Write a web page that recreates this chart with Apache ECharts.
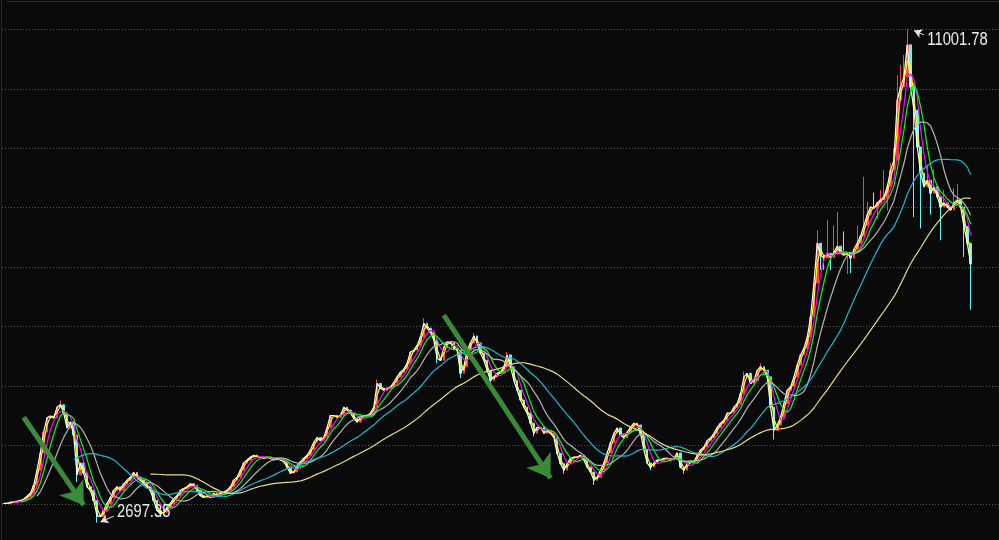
<!DOCTYPE html>
<html>
<head>
<meta charset="utf-8">
<script src="https://cdn.jsdelivr.net/npm/echarts@6/dist/echarts.min.js"></script>
<style>
html,body{margin:0;padding:0;background:#0a0a0a;width:999px;height:540px;overflow:hidden;position:relative;}
#c{position:absolute;left:0;top:-30px;width:999px;height:594px;}
</style>
</head>
<body>
<div id="c"></div>
<script>
// Close of every candle (left to right)
const closes = [
3020,3020,3040,3040,3055,3070,3090,3140,3190,3320,
3580,3870,4220,4460,4490,4460,4640,4680,4540,4290,
4390,4170,3500,3700,3530,3300,3240,3070,2810,2800,
2900,3020,3120,3240,3300,3240,3350,3410,3460,3540,
3460,3410,3350,3300,3240,3070,2900,2850,2870,2950,
3020,3100,3150,3240,3270,3300,3350,3320,3240,3150,
3120,3150,3120,3190,3150,3190,3210,3240,3300,3410,
3460,3580,3700,3750,3800,3830,3800,3800,3780,3800,
3780,3750,3780,3750,3720,3630,3530,3550,3660,3720,
3780,3830,3920,4050,4130,4080,4130,4300,4500,4500,
4470,4500,4640,4590,4540,4450,4390,4470,4500,4500,
4540,4640,5040,4960,4925,4960,4980,5060,5150,5230,
5280,5380,5570,5600,5680,5820,6050,5970,5900,5770,
5460,5430,5650,5740,5720,5630,5600,5210,5320,5600,
5720,5840,5720,5550,5430,5260,5090,5150,5210,5230,
5320,5520,5320,5090,4925,4760,4640,4540,4370,4200,
4300,4300,4200,4250,4200,4130,3860,3690,3580,3690,
3780,3800,3800,3830,3750,3630,3550,3410,3460,3580,
3700,3870,4040,4200,4290,4170,4120,4220,4300,4370,
4340,4200,3920,3700,3630,3700,3750,3750,3780,3780,
3750,3780,3870,3630,3580,3700,3720,3720,3830,3920,
3970,4080,4120,4200,4300,4370,4420,4540,4540,4640,
4700,4870,5150,5210,5040,5090,5260,5320,5260,5150,
4640,4250,4340,4470,4700,4925,4980,5150,5350,5520,
5630,5820,6160,6730,7400,7200,7150,7230,7160,7250,
7350,7230,7200,7240,7150,7300,7400,7520,7700,7880,
8010,7990,8080,8130,8180,8350,8630,8800,9810,10030,
10200,10740,10030,9640,9020,8580,8350,8460,8240,8350,
8180,8010,8080,8010,7960,8080,8130,8010,7680,7400,7050
];
// Long wicks seen in the picture: [candle index, price]
const wickHigh = [
[17,4750],[112,5110],[126,6140],[141,5890],[151,5570],[222,5240],[227,5380],
[244,7620],[247,7790],[249,7700],[250,7930],[252,7600],[256,7700],[258,8520],
[259,8100],[261,8250],[263,8300],[264,8630],[266,8750],[267,9000],
[268,10230],[269,10400],[270,10570],[271,11001.78],[272,10655],[273,10100],
[277,8700],[279,8650],[282,8300],[285,8330],[286,8400]
];
const wickLow = [
[22,3380],[28,2697.35],[47,2790],[130,5380],[137,5130],[146,5020],[159,4150],
[168,3520],[177,3330],[194,3580],[204,3520],[231,4100],[245,6950],[246,6950],
[248,6950],[253,6880],[254,6900],[262,7800],[265,7950],[273,7840],[275,7650],
[278,7880],[281,7450],[288,7170],[290,6280]
];
// Moving averages (periods in candles) and their colours
const maPeriods = [1, 2, 4, 6, 11, 22, 45];
const maColors  = ['#ffffff', '#ffff00', '#ff00ff', '#00ff00', '#b4b4b4', '#1cb8cc', '#e6dc82'];
// Price axis ticks
const yMin = 2000, yMax = 12000, yStep = 1000;
const slotCount = 299;
// Big green arrows: [from, to] as [candle index, price]
const greenArrows = [
  [[6, 4470], [24, 2990]],
  [[132, 6190], [164, 3445]]
];

const categories = [];
for (let i = 0; i < slotCount; i++) categories.push(String(i));

const highs = {}, lows = {};
wickHigh.forEach(([i, v]) => highs[i] = v);
wickLow.forEach(([i, v]) => lows[i] = v);

const kData = closes.map((c, i) => {
  const o = i === 0 ? c : closes[i - 1];
  let hi = Math.max(o, c), lo = Math.min(o, c);
  if (highs[i] !== undefined) hi = Math.max(hi, highs[i]);
  if (lows[i] !== undefined) lo = Math.min(lo, lows[i]);
  return [o, c, lo, hi];
});

let peakIdx = 0, lowIdx = 0;
kData.forEach((d, i) => {
  if (d[3] > kData[peakIdx][3]) peakIdx = i;
  if (d[2] < kData[lowIdx][2]) lowIdx = i;
});
const peakVal = kData[peakIdx][3];
const lowVal = kData[lowIdx][2];

function ma(p) {
  return closes.map((c, i) => {
    if (i < p - 1) return '-';
    let s = 0;
    for (let j = i - p + 1; j <= i; j++) s += closes[j];
    return +(s / p).toFixed(2);
  });
}

const series = [{
  type: 'candlestick',
  data: kData,
  barWidth: '60%',
  z: 2,
  itemStyle: {
    color: '#ff4040', color0: '#54fcfc',
    borderColor: '#ff4040', borderColor0: '#54fcfc', borderWidth: 1
  },
  markLine: {
    silent: true, z: 10, animation: false,
    symbol: ['none', 'arrow'],
    label: { show: false },
    emphasis: { disabled: true },
    data: [
      ...greenArrows.map(a => [
        { coord: a[0], symbolSize: 0, lineStyle: { color: '#3a8a3a', width: 5, type: 'solid' } },
        { coord: a[1], symbol: 'arrow', symbolSize: [22, 22] }
      ]),
      [
        { coord: [peakIdx + 5, 10907], symbolSize: 0, lineStyle: { color: '#e6e6e6', width: 1, type: 'solid' } },
        { coord: [peakIdx + 2, peakVal - 22], symbol: 'arrow', symbolSize: [7, 8] }
      ],
      [
        { coord: [lowIdx + 5, 2805], symbolSize: 0, lineStyle: { color: '#e6e6e6', width: 1, type: 'solid' } },
        { coord: [lowIdx + 1, lowVal + 8], symbol: 'arrow', symbolSize: [7, 8] }
      ]
    ]
  }
}];

maPeriods.forEach((p, k) => {
  series.push({
    type: 'line',
    data: ma(p),
    showSymbol: false,
    symbol: 'none',
    z: 3,
    silent: true,
    lineStyle: { color: maColors[k], width: 1.2 }
  });
});

const chart = echarts.init(document.getElementById('c'), null, { renderer: 'canvas' });
chart.setOption({
  backgroundColor: '#0a0a0a',
  animation: false,
  grid: { left: 2, right: 0, top: 0, bottom: 0, containLabel: false },
  xAxis: {
    type: 'category', data: categories, boundaryGap: true,
    axisLine: { show: false }, axisTick: { show: false }, axisLabel: { show: false },
    splitLine: { show: false }
  },
  yAxis: {
    type: 'value', min: yMin, max: yMax, interval: yStep,
    axisLine: { show: false }, axisTick: { show: false }, axisLabel: { show: false },
    splitLine: { show: true, lineStyle: { color: '#555555', width: 1, type: [1, 2] } }
  },
  series: series
});

// Value labels for the extremes, positioned through the chart's own scales
const labelFont = '"Liberation Sans", Arial, sans-serif';
const pPeak = chart.convertToPixel({ gridIndex: 0 }, [peakIdx + 6, 10818]);
const pLow = chart.convertToPixel({ gridIndex: 0 }, [lowIdx + 6, 2878]);
chart.setOption({
  graphic: [
    { type: 'line', shape: { x1: 7, y1: 31.5, x2: 999, y2: 31.5 }, style: { stroke: '#333333', lineWidth: 1 }, silent: true },
    { type: 'line', shape: { x1: 1.5, y1: 0, x2: 1.5, y2: 594 }, style: { stroke: '#2a2a2a', lineWidth: 1 }, silent: true },
    { type: 'text', x: pPeak[0], y: pPeak[1], scaleX: 0.82, silent: true, z: 20,
      style: { text: peakVal.toFixed(2), fill: '#ececec', fontSize: 18, fontFamily: labelFont, align: 'left', verticalAlign: 'middle' } },
    { type: 'text', x: pLow[0], y: pLow[1], scaleX: 0.82, silent: true, z: 20,
      style: { text: lowVal.toFixed(2), fill: '#ececec', fontSize: 18, fontFamily: labelFont, align: 'left', verticalAlign: 'middle' } }
  ]
});
</script>
</body>
</html>
